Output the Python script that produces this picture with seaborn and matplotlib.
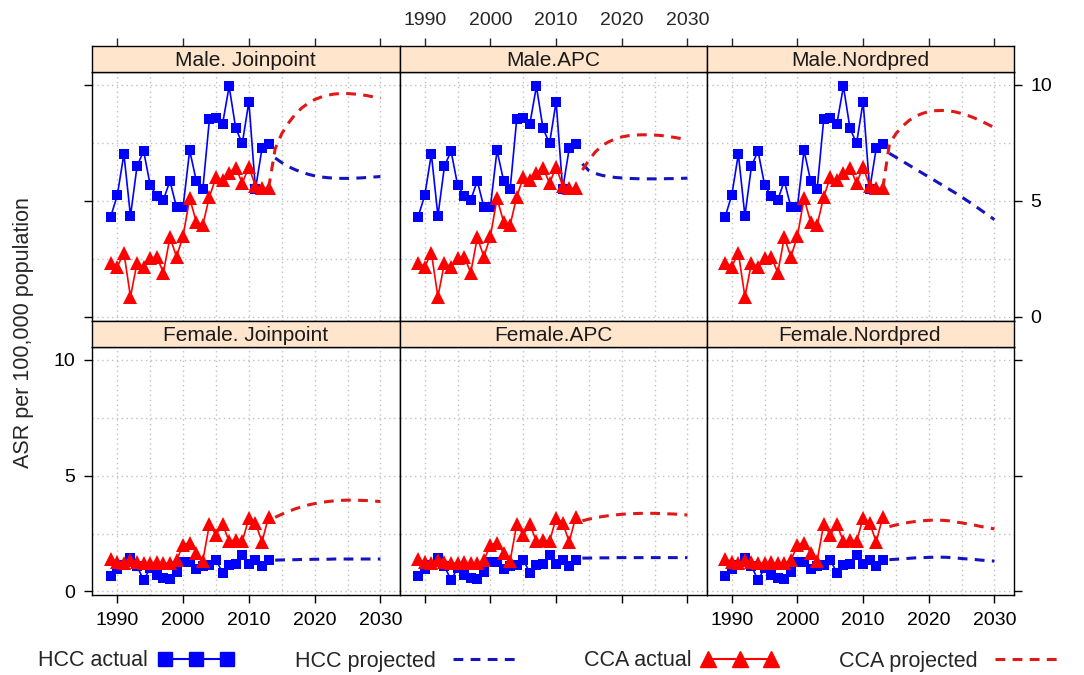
import matplotlib
matplotlib.use("Agg")
import matplotlib.pyplot as plt
from matplotlib.lines import Line2D
from matplotlib.ticker import MultipleLocator, FixedLocator
import pandas as pd
import seaborn as sns

sns.set_style("white")
plt.rcParams["font.family"] = ["Liberation Sans", "DejaVu Sans"]

# ---- observed age-standardised rates, 1989-2013 ----
years_actual = list(range(1989, 2014))
male_hcc = [4.32, 5.25, 7.02, 4.35, 6.50, 7.15, 5.68, 5.21, 5.04, 5.86, 4.72, 4.75, 7.18,
            5.87, 5.51, 8.52, 8.58, 8.32, 9.94, 8.13, 7.48, 9.28, 5.50, 7.27, 7.45]
male_cca = [2.33, 2.16, 2.76, 0.86, 2.33, 2.13, 2.52, 2.59, 1.90, 3.42, 2.59, 3.48, 5.11,
            4.10, 3.96, 5.18, 6.01, 5.90, 6.19, 6.43, 5.76, 6.47, 5.64, 5.54, 5.54]
female_hcc = [0.68, 0.96, 1.15, 1.46, 1.08, 0.50, 1.00, 0.72, 0.59, 0.55, 0.86, 1.25, 1.29,
              0.96, 1.08, 1.15, 1.37, 0.80, 1.15, 1.19, 1.58, 1.18, 1.37, 1.08, 1.37]
female_cca = [1.39, 1.29, 1.22, 1.37, 1.29, 1.22, 1.22, 1.25, 1.22, 1.22, 1.34, 2.01, 2.11,
              1.68, 1.32, 2.90, 2.44, 2.90, 2.16, 2.23, 2.16, 3.16, 2.95, 2.14, 3.23]

# ---- projections ----
years_proj = list(range(2014, 2031))
years_proj_from_2013 = list(range(2013, 2031))

male_joinpoint_hcc = [6.85, 6.65, 6.48, 6.35, 6.24, 6.15, 6.08, 6.03, 6.00, 5.98, 5.97,
                      5.97, 5.98, 5.99, 6.01, 6.03, 6.05]
male_joinpoint_cca = [5.55, 7.25, 7.90, 8.35, 8.72, 9.00, 9.21, 9.37, 9.48, 9.56, 9.61,
                      9.63, 9.63, 9.61, 9.58, 9.54, 9.48, 9.42]
male_apc_hcc = [6.60, 6.30, 6.18, 6.10, 6.05, 6.01, 5.99, 5.97, 5.96, 5.95, 5.95, 5.95,
                5.95, 5.96, 5.96, 5.97, 5.98]
male_apc_cca = [6.33, 6.76, 7.12, 7.38, 7.55, 7.67, 7.76, 7.81, 7.84, 7.85, 7.85, 7.84,
                7.82, 7.78, 7.74, 7.69, 7.64]
male_nordpred_hcc = [7.05, 6.88, 6.71, 6.54, 6.37, 6.20, 6.03, 5.86, 5.69, 5.52, 5.35,
                     5.17, 4.98, 4.79, 4.59, 4.39, 4.19]
male_nordpred_cca = [5.55, 7.45, 7.90, 8.22, 8.47, 8.65, 8.77, 8.85, 8.89, 8.90, 8.89,
                     8.84, 8.77, 8.68, 8.57, 8.44, 8.30, 8.16]
female_joinpoint_hcc = [1.35, 1.36, 1.37, 1.37, 1.38, 1.38, 1.39, 1.39, 1.39, 1.40, 1.40,
                        1.40, 1.40, 1.40, 1.40, 1.40, 1.40]
female_joinpoint_cca = [3.20, 3.33, 3.45, 3.56, 3.65, 3.73, 3.79, 3.84, 3.88, 3.91, 3.93,
                        3.94, 3.94, 3.93, 3.92, 3.90, 3.88]
female_apc_hcc = [1.44, 1.44, 1.45, 1.45, 1.45, 1.46, 1.46, 1.46, 1.46, 1.46, 1.46, 1.46,
                  1.46, 1.46, 1.46, 1.46, 1.46]
female_apc_cca = [3.05, 3.12, 3.18, 3.23, 3.27, 3.30, 3.33, 3.35, 3.36, 3.37, 3.37, 3.37,
                  3.36, 3.35, 3.34, 3.32, 3.30]
female_nordpred_hcc = [1.37, 1.39, 1.41, 1.43, 1.45, 1.46, 1.47, 1.48, 1.48, 1.47, 1.45,
                       1.42, 1.40, 1.38, 1.35, 1.33, 1.31]
female_nordpred_cca = [2.80, 2.87, 2.93, 2.98, 3.02, 3.05, 3.07, 3.08, 3.07, 3.05, 3.00,
                       2.96, 2.91, 2.86, 2.80, 2.75, 2.70]

sexes = ["Male", "Female"]
methods = ["Joinpoint", "APC", "Nordpred"]
strip_titles = {("Male", "Joinpoint"): "Male. Joinpoint", ("Male", "APC"): "Male.APC",
                ("Male", "Nordpred"): "Male.Nordpred",
                ("Female", "Joinpoint"): "Female. Joinpoint", ("Female", "APC"): "Female.APC",
                ("Female", "Nordpred"): "Female.Nordpred"}
year_ticks = [1990, 2000, 2010, 2020, 2030]
asr_ticks = [0, 5, 10]

# ---- long tables ----
actual_rows = []
for sex, cancer, vals in [("Male", "HCC", male_hcc), ("Male", "CCA", male_cca),
                          ("Female", "HCC", female_hcc), ("Female", "CCA", female_cca)]:
    for y, v in zip(years_actual, vals):
        actual_rows.append({"sex": sex, "cancer": cancer, "year": y, "asr": v})
actual = pd.DataFrame(actual_rows)

proj_rows = []
for sex, method, cancer, yrs, vals in [
        ("Male", "Joinpoint", "HCC", years_proj, male_joinpoint_hcc),
        ("Male", "Joinpoint", "CCA", years_proj_from_2013, male_joinpoint_cca),
        ("Male", "APC", "HCC", years_proj, male_apc_hcc),
        ("Male", "APC", "CCA", years_proj, male_apc_cca),
        ("Male", "Nordpred", "HCC", years_proj, male_nordpred_hcc),
        ("Male", "Nordpred", "CCA", years_proj_from_2013, male_nordpred_cca),
        ("Female", "Joinpoint", "HCC", years_proj, female_joinpoint_hcc),
        ("Female", "Joinpoint", "CCA", years_proj, female_joinpoint_cca),
        ("Female", "APC", "HCC", years_proj, female_apc_hcc),
        ("Female", "APC", "CCA", years_proj, female_apc_cca),
        ("Female", "Nordpred", "HCC", years_proj, female_nordpred_hcc),
        ("Female", "Nordpred", "CCA", years_proj, female_nordpred_cca)]:
    for y, v in zip(yrs, vals):
        proj_rows.append({"sex": sex, "method": method, "cancer": cancer, "year": y, "asr": v})
projected = pd.DataFrame(proj_rows)

# ---- styling ----
BLUE = "#0000FF"
RED = "#FF0000"
BLUE_PROJ = "#1414C0"
RED_PROJ = "#E01818"
STRIP_BG = "#FFE5CC"
DASH = (0, (3.2, 2.4))
TICK_FS = 14
STRIP_FS = 15
XLIM = (1986.15, 2032.9)
YLIM = (-0.17, 10.56)

W, H = 1084, 675
fig = plt.figure(figsize=(W / 100, H / 100), dpi=100)


def rect(x0, y0, x1, y1):
    return [x0 / W, 1 - y1 / H, (x1 - x0) / W, (y1 - y0) / H]


col_x = [(92, 399.5), (399.5, 706.5), (706.5, 1013.5)]
row_y = [((46, 72), (72, 320.7)), ((320.7, 346.7), (346.7, 595.4))]

for r, sex in enumerate(sexes):
    (sy0, sy1), (py0, py1) = row_y[r]
    for c, method in enumerate(methods):
        x0, x1 = col_x[c]
        ax = fig.add_axes(rect(x0, py0, x1, py1))
        sax = fig.add_axes(rect(x0, sy0, x1, sy1))

        # observed series
        for cancer, color, marker, ms in [("HCC", BLUE, "s", 7.8), ("CCA", RED, "^", 9.5)]:
            d = actual[(actual.sex == sex) & (actual.cancer == cancer)]
            sns.lineplot(data=d, x="year", y="asr", ax=ax, color=color, marker=marker,
                         markersize=ms, markeredgewidth=0, linewidth=1.2,
                         estimator=None, sort=False, zorder=3)
        # projected series
        for cancer, color in [("HCC", BLUE_PROJ), ("CCA", RED_PROJ)]:
            d = projected[(projected.sex == sex) & (projected.method == method)
                          & (projected.cancer == cancer)]
            sns.lineplot(data=d, x="year", y="asr", ax=ax, color=color, linewidth=2.2,
                         linestyle=DASH, estimator=None, sort=False, zorder=3)

        ax.set_xlim(*XLIM)
        ax.set_ylim(*YLIM)
        ax.set_xlabel("")
        ax.set_ylabel("")
        ax.xaxis.set_major_locator(FixedLocator(year_ticks))
        ax.xaxis.set_minor_locator(MultipleLocator(5))
        ax.yaxis.set_major_locator(FixedLocator(asr_ticks))
        ax.yaxis.set_minor_locator(MultipleLocator(2.5))
        ax.grid(True, which="both", linestyle=(0, (1, 2.5)), color="#C0C0C0", linewidth=1.0)
        ax.set_axisbelow(True)
        for sp in ax.spines.values():
            sp.set_color("black")
            sp.set_linewidth(1.0)

        ax.tick_params(which="minor", length=0)
        ax.tick_params(which="major", direction="out", length=6, width=1.0, colors="black",
                       labelsize=TICK_FS, pad=6)
        bottom_row = r == 1
        ax.tick_params(axis="x", top=False, labeltop=False,
                       bottom=bottom_row, labelbottom=bottom_row and c != 1)
        ax.tick_params(axis="y", left=(c == 0), labelleft=(c == 0 and r == 1),
                       right=(c == 2), labelright=(c == 2 and r == 0))

        # strip header
        sax.set_facecolor(STRIP_BG)
        sax.set_xlim(*XLIM)
        sax.set_ylim(0, 1)
        sax.set_yticks([])
        for sp in sax.spines.values():
            sp.set_color("black")
            sp.set_linewidth(1.0)
        sax.text(0.5, 0.45, strip_titles[(sex, method)], transform=sax.transAxes,
                 ha="center", va="center", fontsize=STRIP_FS, color="#1a1a1a")
        if r == 0:
            sax.xaxis.set_major_locator(FixedLocator(year_ticks))
            sax.tick_params(axis="x", which="major", direction="out", length=6, width=1.0,
                            top=True, bottom=False, labelbottom=False,
                            labeltop=(c == 1), labelsize=TICK_FS, pad=6)
        else:
            sax.set_xticks([])

fig.text(24 / W, 1 - 333 / H, "ASR per 100,000 population", rotation=90,
         ha="center", va="center", fontsize=15.5)

handles = [
    Line2D([], [], color=BLUE, marker="s", markersize=10, linewidth=1.5),
    Line2D([], [], color=BLUE_PROJ, linewidth=2.2, linestyle=DASH),
    Line2D([], [], color=RED, marker="^", markersize=12, linewidth=1.5),
    Line2D([], [], color=RED_PROJ, linewidth=2.2, linestyle=DASH),
]
labels = ["HCC actual", "HCC projected", "CCA actual", "CCA projected"]
fig.legend(handles, labels, loc="center", bbox_to_anchor=(0.508, 1 - 661 / H), ncol=4,
           frameon=False, markerfirst=False, numpoints=3, handlelength=3.5,
           handletextpad=0.5, columnspacing=2.85, fontsize=15.5)

fig.savefig("out.png", dpi=100)
